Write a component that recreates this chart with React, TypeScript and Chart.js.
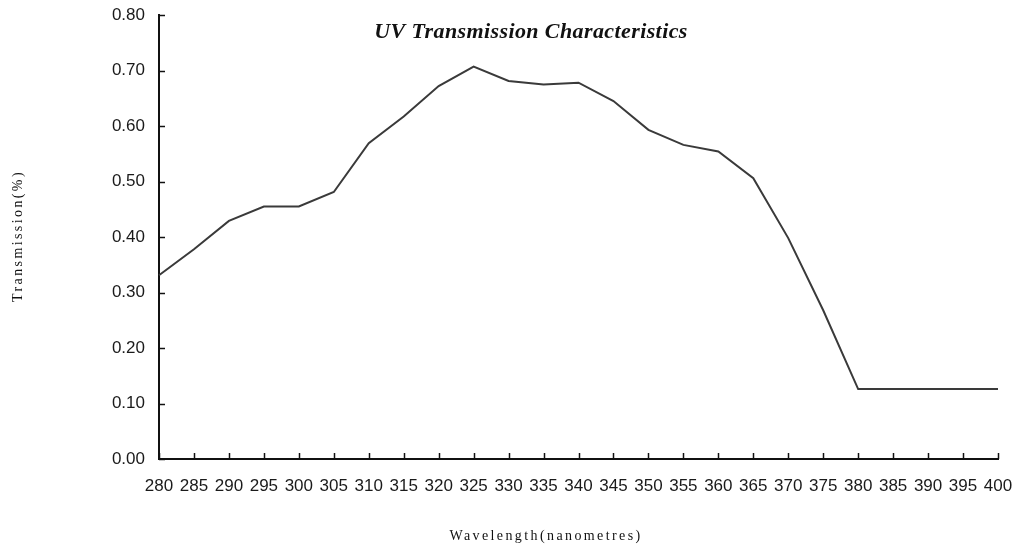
import React, { useEffect, useRef } from "react";
import { Chart, registerables } from "chart.js";

Chart.register(...registerables);

const wavelengths = [280, 285, 290, 295, 300, 305, 310, 315, 320, 325, 330, 335, 340, 345, 350, 355, 360, 365, 370, 375, 380, 385, 390, 395, 400];
const transmission = [0.331, 0.378, 0.429, 0.455, 0.455, 0.481, 0.569, 0.617, 0.672, 0.707, 0.681, 0.675, 0.678, 0.645, 0.593, 0.566, 0.554, 0.506, 0.398, 0.268, 0.126, 0.126, 0.126, 0.126, 0.126];
const yTicks = [0, 0.1, 0.2, 0.3, 0.4, 0.5, 0.6, 0.7, 0.8];

const chartTitle = "UV Transmission Characteristics";
const xTitle = "Wavelength(nanometres)";
const yTitle = "Transmission(%)";

const decorPlugin = {
  id: "decor",
  afterDraw(chart: any) {
    const ctx = chart.ctx;
    const xs = chart.scales.x;
    const ys = chart.scales.y;
    const area = chart.chartArea;
    ctx.save();
    ctx.strokeStyle = "#111";
    ctx.lineWidth = 1.5;
    xs.ticks.forEach((_t: any, i: number) => {
      const px = Math.round(xs.getPixelForTick(i)) + 0.5;
      ctx.beginPath();
      ctx.moveTo(px, area.bottom);
      ctx.lineTo(px, area.bottom - 6);
      ctx.stroke();
    });
    ys.ticks.forEach((t: any) => {
      const py = Math.round(ys.getPixelForValue(t.value)) + 0.5;
      ctx.beginPath();
      ctx.moveTo(area.left, py);
      ctx.lineTo(area.left + 6, py);
      ctx.stroke();
    });
    ctx.fillStyle = "#111";
    ctx.textAlign = "center";
    ctx.textBaseline = "middle";
    ctx.font = "italic bold 22px 'Liberation Serif', 'Times New Roman', serif";
    (ctx as any).letterSpacing = "0.4px";
    ctx.fillText(chartTitle, 531, 32);
    ctx.font = "14px 'Liberation Serif', 'Times New Roman', serif";
    (ctx as any).letterSpacing = "2.4px";
    ctx.fillText(xTitle, 546, 536);
    ctx.translate(18, 236);
    ctx.rotate(-Math.PI / 2);
    ctx.fillText(yTitle, 0, 0);
    (ctx as any).letterSpacing = "0px";
    ctx.restore();
  },
};

export default function App() {
  const canvasRef = useRef<HTMLCanvasElement | null>(null);

  useEffect(() => {
    const canvas = canvasRef.current;
    if (!canvas) return;
    const chart = new Chart(canvas, {
      type: "line",
      data: {
        labels: wavelengths.map(String),
        datasets: [
          {
            data: transmission,
            borderColor: "#3a3a3a",
            borderWidth: 2,
            pointRadius: 0,
            tension: 0,
            fill: false,
          },
        ],
      },
      options: {
        animation: false,
        responsive: false,
        maintainAspectRatio: false,
        layout: { padding: { left: 0, top: 15, right: 17, bottom: 0 } },
        plugins: {
          legend: { display: false },
          title: { display: false },
          tooltip: { enabled: false },
        },
        scales: {
          x: {
            type: "category",
            offset: false,
            grid: { display: false, drawTicks: false },
            border: { display: true, color: "#111", width: 2 },
            ticks: {
              autoSkip: false,
              maxRotation: 0,
              minRotation: 0,
              padding: 17,
              color: "#1a1a1a",
              font: { family: "'Liberation Sans', Arial, sans-serif", size: 17 },
            },
            afterFit(scale: any) {
              scale.height = 89;
              scale.paddingLeft = 0;
              scale.paddingRight = 0;
            },
          },
          y: {
            min: 0,
            max: 0.8,
            grid: { display: false, drawTicks: false },
            border: { display: true, color: "#111", width: 2 },
            afterBuildTicks(scale: any) {
              scale.ticks = yTicks.map((v) => ({ value: v }));
            },
            ticks: {
              padding: 14,
              color: "#1a1a1a",
              font: { family: "'Liberation Sans', Arial, sans-serif", size: 17 },
              callback: (v: any) => Number(v).toFixed(2),
            },
            afterFit(scale: any) {
              scale.width = 159;
              scale.paddingTop = 0;
              scale.paddingBottom = 0;
            },
          },
        },
      },
      plugins: [decorPlugin],
    });
    return () => chart.destroy();
  }, []);

  return (
    <div style={{ position: "fixed", left: 0, top: 0, width: 1015, height: 548, background: "#fff" }}>
      <canvas ref={canvasRef} width={1015} height={548} style={{ width: 1015, height: 548, display: "block" }} />
    </div>
  );
}
